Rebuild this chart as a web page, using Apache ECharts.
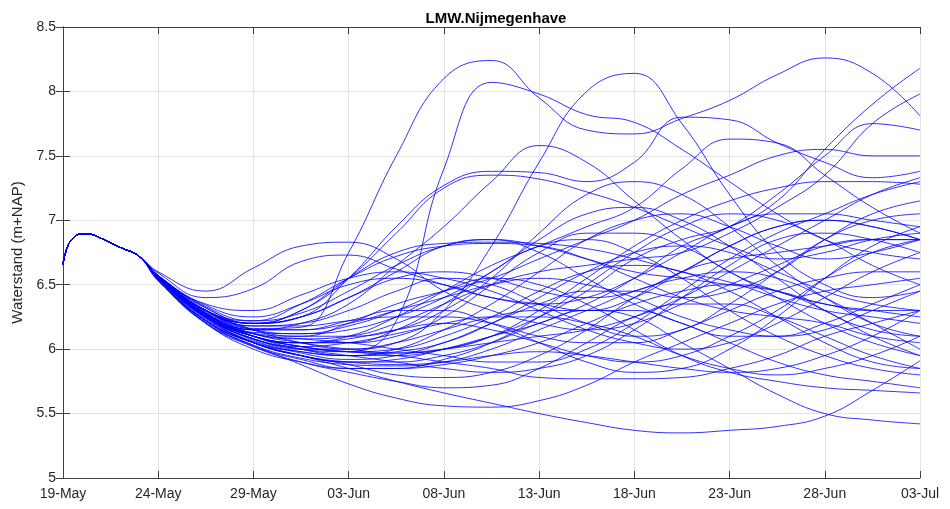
<!DOCTYPE html>
<html>
<head>
<meta charset="utf-8">
<script src="https://cdn.jsdelivr.net/npm/echarts@6/dist/echarts.min.js"></script>
<style>
  html, body { margin: 0; padding: 0; background: #ffffff; }
  #chart { width: 950px; height: 509px; }
</style>
</head>
<body>
<div id="chart"></div>
<script>
// Ensemble forecast of the water level at LMW.Nijmegenhave (m+NAP).
// x values are days counted from 19-May.

const xTickLabels = ['19-May', '24-May', '29-May', '03-Jun', '08-Jun', '13-Jun', '18-Jun', '23-Jun', '28-Jun', '03-Jul'];
const yTicks = [5, 5.5, 6, 6.5, 7, 7.5, 8, 8.5];

// Shared observed/deterministic start, identical for every member
const startDays = [0, 0.25, 0.6, 1, 1.5, 2, 3, 4];
const startLevels = [6.66, 6.80, 6.87, 6.895, 6.89, 6.86, 6.79, 6.72];

// Days at which each member's level is given (24-May .. 03-Jul)
const memberDays = [5, 7.5, 10, 12.5, 15, 17.5, 20, 22.5, 25, 27.5, 30, 32.5, 35, 37.5, 40, 42.5, 45];

const member01 = [6.57, 6.30, 6.16, 6.17, 6.75, 7.50, 8.10, 8.24, 7.95, 7.70, 7.67, 7.79, 7.93, 8.13, 8.26, 8.14, 7.81];
const member02 = [6.55, 6.25, 6.10, 6.02, 5.98, 6.22, 7.40, 8.07, 7.98, 7.82, 7.76, 7.55, 7.30, 7.05, 6.85, 6.75, 6.70];
const member03 = [6.56, 6.25, 6.08, 6.00, 6.00, 6.05, 6.30, 6.80, 7.45, 8.00, 8.14, 7.75, 7.20, 6.75, 6.50, 6.40, 6.45];
const member04 = [6.57, 6.30, 6.15, 6.20, 6.35, 6.65, 6.95, 7.30, 7.58, 7.45, 7.15, 6.85, 6.60, 6.45, 6.35, 6.30, 6.25];
const member05 = [6.60, 6.45, 6.63, 6.80, 6.83, 6.70, 6.45, 6.30, 6.20, 6.15, 6.20, 6.35, 6.50, 6.65, 6.80, 6.85, 6.85];
const member06 = [6.59, 6.40, 6.47, 6.68, 6.73, 6.62, 6.50, 6.40, 6.35, 6.30, 6.40, 6.60, 6.80, 6.95, 7.00, 6.95, 6.85];
const member07 = [6.53, 6.20, 6.03, 5.88, 5.73, 5.62, 5.56, 5.55, 5.60, 5.72, 5.90, 6.05, 6.20, 6.35, 6.45, 6.50, 6.55];
const member08 = [6.53, 6.22, 6.05, 5.95, 5.85, 5.75, 5.66, 5.58, 5.50, 5.43, 5.37, 5.35, 5.37, 5.40, 5.48, 5.68, 5.91];
const member09 = [6.55, 6.30, 6.15, 6.05, 6.00, 6.05, 6.15, 6.25, 6.30, 6.30, 6.25, 6.05, 5.85, 5.65, 5.50, 5.45, 5.42];
const member10 = [6.56, 6.28, 6.10, 6.00, 5.95, 5.95, 6.00, 6.10, 6.25, 6.45, 6.70, 6.85, 6.95, 7.15, 7.55, 7.90, 8.18];
const member11 = [6.56, 6.27, 6.12, 6.08, 6.10, 6.20, 6.35, 6.50, 6.60, 6.65, 6.70, 6.75, 6.90, 7.10, 7.35, 7.75, 7.98];
const member12 = [6.55, 6.25, 6.05, 5.95, 5.90, 5.92, 6.00, 6.10, 6.20, 6.35, 6.55, 6.80, 6.95, 7.20, 7.50, 7.75, 7.70];
const member13 = [6.57, 6.32, 6.20, 6.25, 6.55, 6.95, 7.27, 7.38, 7.37, 7.30, 7.45, 7.80, 7.78, 7.60, 7.45, 7.33, 7.38];
const member14 = [6.55, 6.28, 6.12, 6.10, 6.20, 6.35, 6.45, 6.55, 6.70, 6.85, 7.00, 7.20, 7.35, 7.50, 7.55, 7.50, 7.50];
const member15 = [6.56, 6.27, 6.10, 6.05, 6.10, 6.25, 6.45, 6.65, 6.80, 6.95, 7.10, 7.40, 7.63, 7.60, 7.35, 7.10, 6.90];
const member16 = [6.56, 6.30, 6.15, 6.10, 6.10, 6.15, 6.30, 6.55, 6.90, 7.20, 7.30, 7.20, 6.95, 6.65, 6.40, 6.20, 6.10];
const member17 = [6.55, 6.25, 6.07, 5.97, 5.92, 5.95, 6.05, 6.20, 6.35, 6.45, 6.45, 6.40, 6.45, 6.60, 6.85, 7.05, 7.15];
const member18 = [6.55, 6.26, 6.10, 6.02, 5.98, 5.97, 6.00, 6.05, 6.10, 6.15, 6.25, 6.40, 6.60, 6.80, 7.00, 7.20, 7.33];
const member19 = [6.57, 6.30, 6.20, 6.30, 6.55, 6.90, 7.25, 7.35, 7.32, 7.22, 7.10, 6.95, 6.80, 6.70, 6.75, 6.85, 6.90];
const member20 = [6.57, 6.35, 6.30, 6.42, 6.55, 6.60, 6.55, 6.45, 6.30, 6.15, 6.05, 6.00, 6.05, 6.20, 6.40, 6.60, 6.75];
const member21 = [6.56, 6.30, 6.20, 6.25, 6.40, 6.60, 6.80, 6.85, 6.75, 6.55, 6.35, 6.20, 6.10, 6.10, 6.20, 6.35, 6.50];
const member22 = [6.56, 6.30, 6.22, 6.35, 6.55, 6.72, 6.80, 6.82, 6.80, 6.70, 6.55, 6.40, 6.30, 6.25, 6.20, 6.10, 6.05];
const member23 = [6.55, 6.22, 6.05, 5.98, 5.95, 6.00, 6.15, 6.35, 6.60, 6.85, 7.00, 7.05, 6.95, 6.80, 6.70, 6.75, 6.85];
const member24 = [6.54, 6.20, 6.02, 5.92, 5.85, 5.85, 5.92, 6.05, 6.25, 6.50, 6.75, 6.95, 7.05, 7.00, 6.85, 6.65, 6.50];
const member25 = [6.56, 6.28, 6.15, 6.15, 6.22, 6.30, 6.30, 6.20, 6.05, 5.90, 5.82, 5.85, 6.00, 6.25, 6.55, 6.80, 6.95];
const member26 = [6.55, 6.25, 6.08, 6.00, 5.95, 5.90, 5.85, 5.82, 5.85, 5.95, 6.15, 6.40, 6.65, 6.85, 6.90, 6.85, 6.75];
const member27 = [6.56, 6.30, 6.18, 6.20, 6.30, 6.45, 6.55, 6.50, 6.35, 6.20, 6.10, 6.15, 6.35, 6.60, 6.85, 7.00, 7.05];
const member28 = [6.57, 6.33, 6.22, 6.28, 6.45, 6.65, 6.80, 6.85, 6.80, 6.70, 6.60, 6.55, 6.50, 6.45, 6.35, 6.30, 6.30];
const member29 = [6.55, 6.25, 6.08, 6.02, 6.05, 6.12, 6.20, 6.25, 6.25, 6.20, 6.10, 5.95, 5.85, 5.80, 5.85, 5.95, 6.10];
const member30 = [6.54, 6.22, 6.05, 5.95, 5.90, 5.90, 5.95, 6.05, 6.20, 6.30, 6.30, 6.20, 6.05, 5.90, 5.80, 5.75, 5.70];
const member31 = [6.56, 6.30, 6.20, 6.30, 6.55, 6.75, 6.82, 6.83, 6.82, 6.78, 6.70, 6.60, 6.52, 6.40, 6.30, 6.25, 6.20];
const member32 = [6.55, 6.25, 6.10, 6.05, 6.05, 6.10, 6.25, 6.50, 6.75, 6.90, 6.90, 6.80, 6.60, 6.40, 6.20, 6.05, 5.95];
const member33 = [6.55, 6.24, 6.05, 5.95, 5.90, 5.88, 5.90, 5.95, 5.98, 5.95, 5.90, 5.85, 5.82, 5.85, 5.95, 6.10, 6.30];
const member34 = [6.56, 6.26, 6.10, 6.02, 5.98, 5.95, 5.90, 5.85, 5.78, 5.77, 5.77, 5.78, 5.85, 5.95, 6.10, 6.20, 6.30];
const member35 = [6.54, 6.22, 6.02, 5.90, 5.82, 5.75, 5.70, 5.72, 5.85, 6.05, 6.25, 6.35, 6.35, 6.25, 6.10, 5.95, 5.85];
const member36 = [6.55, 6.23, 6.05, 5.95, 5.88, 5.80, 5.78, 5.82, 5.95, 6.15, 6.40, 6.60, 6.70, 6.75, 6.80, 6.85, 6.85];
const member37 = [6.56, 6.27, 6.12, 6.08, 6.05, 6.00, 5.95, 5.90, 5.90, 6.00, 6.20, 6.45, 6.70, 6.90, 7.05, 7.20, 7.30];
const member38 = [6.57, 6.32, 6.20, 6.25, 6.40, 6.55, 6.60, 6.55, 6.45, 6.40, 6.45, 6.60, 6.80, 6.95, 7.00, 6.95, 6.85];
const member39 = [6.56, 6.30, 6.15, 6.12, 6.15, 6.25, 6.40, 6.60, 6.85, 7.05, 7.10, 7.00, 6.80, 6.55, 6.30, 6.15, 6.10];
const member40 = [6.55, 6.26, 6.10, 6.05, 6.08, 6.15, 6.20, 6.15, 6.05, 5.95, 5.90, 5.95, 6.10, 6.30, 6.55, 6.75, 6.85];
const member41 = [6.55, 6.24, 6.06, 5.98, 5.95, 5.98, 6.05, 6.20, 6.40, 6.60, 6.75, 6.80, 6.75, 6.60, 6.45, 6.35, 6.30];
const member42 = [6.56, 6.28, 6.12, 6.05, 6.00, 5.97, 6.00, 6.10, 6.30, 6.55, 6.80, 7.00, 7.15, 7.25, 7.30, 7.30, 7.28];
const member43 = [6.54, 6.20, 6.00, 5.90, 5.85, 5.85, 5.88, 5.95, 6.05, 6.20, 6.35, 6.45, 6.50, 6.45, 6.30, 6.10, 5.95];
const member44 = [6.56, 6.30, 6.18, 6.18, 6.22, 6.25, 6.25, 6.20, 6.10, 6.05, 6.05, 6.15, 6.30, 6.45, 6.55, 6.60, 6.60];
const member45 = [6.55, 6.26, 6.10, 6.05, 6.05, 6.15, 6.35, 6.60, 6.80, 6.85, 6.75, 6.55, 6.30, 6.10, 5.95, 5.85, 5.80];
const member46 = [6.55, 6.25, 6.08, 6.00, 5.98, 6.00, 6.10, 6.25, 6.45, 6.60, 6.65, 6.60, 6.45, 6.25, 6.05, 5.90, 5.85];
const member47 = [6.57, 6.34, 6.25, 6.35, 6.50, 6.55, 6.50, 6.40, 6.35, 6.40, 6.55, 6.75, 6.95, 7.05, 7.05, 7.00, 6.95];
const member48 = [6.56, 6.29, 6.15, 6.15, 6.20, 6.30, 6.40, 6.50, 6.55, 6.50, 6.40, 6.25, 6.15, 6.10, 6.15, 6.30, 6.45];
const member49 = [6.54, 6.21, 6.03, 5.93, 5.88, 5.87, 5.90, 6.00, 6.15, 6.30, 6.45, 6.55, 6.60, 6.55, 6.40, 6.20, 6.00];
const member50 = [6.55, 6.27, 6.13, 6.12, 6.18, 6.30, 6.45, 6.55, 6.50, 6.35, 6.15, 5.95, 5.82, 5.75, 5.70, 5.68, 5.66];

const members = [
  member01, member02, member03, member04, member05, member06, member07, member08, member09, member10,
  member11, member12, member13, member14, member15, member16, member17, member18, member19, member20,
  member21, member22, member23, member24, member25, member26, member27, member28, member29, member30,
  member31, member32, member33, member34, member35, member36, member37, member38, member39, member40,
  member41, member42, member43, member44, member45, member46, member47, member48, member49, member50
];

const chart = echarts.init(document.getElementById('chart'), null, { renderer: 'canvas' });

const axisColor = '#404040';
const textColor = '#262626';
const font = 'Liberation Sans, Arial, Helvetica, sans-serif';

function memberSeries(values, k) {
  const pts = startDays.map((d, i) => [d, startLevels[i]])
    .concat(memberDays.map((d, i) => [d, values[i]]));
  return {
    name: 'member ' + (k + 1),
    type: 'line',
    xAxisIndex: 0,
    yAxisIndex: 0,
    data: pts,
    smooth: 0.45,
    showSymbol: false,
    symbol: 'none',
    silent: true,
    clip: true,
    lineStyle: { color: '#0000ff', width: 0.9, opacity: 0.9 }
  };
}

const tickStyle = { show: true, inside: true, length: 7, lineStyle: { color: axisColor, width: 1 } };

const option = {
  animation: false,
  backgroundColor: '#ffffff',
  title: {
    text: 'LMW.Nijmegenhave',
    left: 491, top: 6, textAlign: 'center',
    textStyle: { fontFamily: font, fontSize: 15, fontWeight: 'bold', color: '#000000' }
  },
  grid: { left: 63, right: 30, top: 27, bottom: 31, containLabel: false },
  xAxis: [
    {
      type: 'value', min: 0, max: 45, interval: 5, position: 'bottom',
      axisLine: { show: true, lineStyle: { color: axisColor, width: 1 } },
      axisTick: tickStyle,
      splitLine: { show: true, lineStyle: { color: '#e3e3e3', width: 1 } },
      axisLabel: {
        margin: 9, color: textColor, fontFamily: font, fontSize: 14,
        formatter: v => xTickLabels[Math.round(v / 5)]
      }
    },
    {
      type: 'value', min: 0, max: 45, interval: 5, position: 'top',
      axisLine: { show: true, lineStyle: { color: axisColor, width: 1 } },
      axisTick: tickStyle,
      splitLine: { show: false },
      axisLabel: { show: false }
    }
  ],
  yAxis: [
    {
      type: 'value', min: yTicks[0], max: yTicks[yTicks.length - 1], interval: 0.5, position: 'left',
      name: 'Waterstand (m+NAP)', nameLocation: 'middle', nameGap: 33, nameRotate: 90,
      nameTextStyle: { fontFamily: font, fontSize: 15, color: textColor },
      axisLine: { show: true, lineStyle: { color: axisColor, width: 1 } },
      axisTick: tickStyle,
      splitLine: { show: true, lineStyle: { color: '#e3e3e3', width: 1 } },
      axisLabel: { margin: 7, color: textColor, fontFamily: font, fontSize: 14 }
    },
    {
      type: 'value', min: yTicks[0], max: yTicks[yTicks.length - 1], interval: 0.5, position: 'right',
      axisLine: { show: true, lineStyle: { color: axisColor, width: 1 } },
      axisTick: tickStyle,
      splitLine: { show: false },
      axisLabel: { show: false }
    }
  ],
  series: members.map(memberSeries)
};

chart.setOption(option);
</script>
</body>
</html>
